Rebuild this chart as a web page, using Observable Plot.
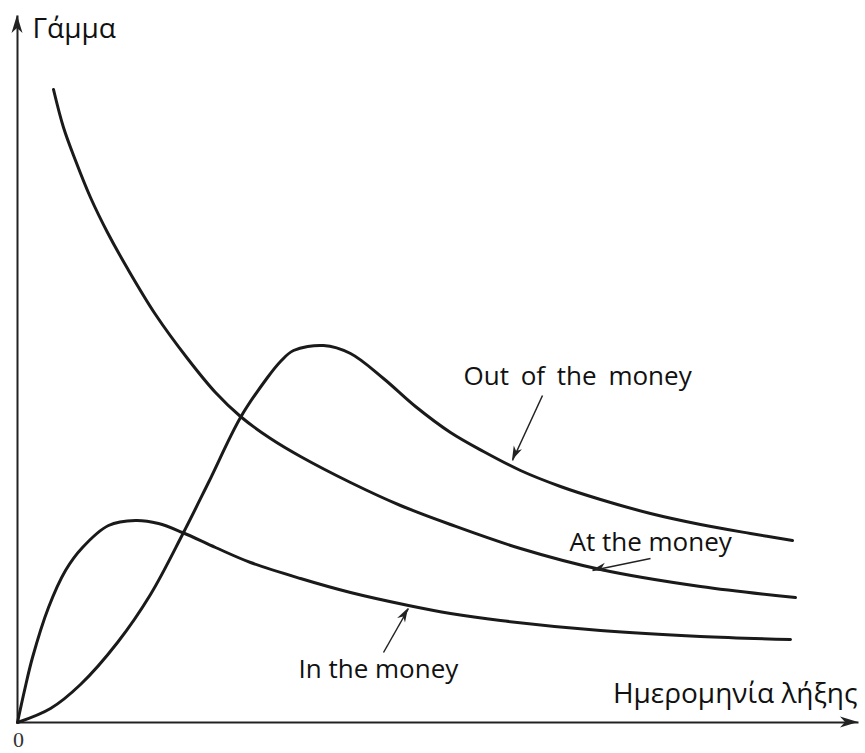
<!DOCTYPE html>
<html><head><meta charset="utf-8">
<script src="https://cdn.jsdelivr.net/npm/d3@7"></script>
<script src="https://cdn.jsdelivr.net/npm/@observablehq/plot@0.6"></script>
<style>html,body{margin:0;padding:0;background:#fff}svg{display:block}</style>
</head><body><div id="chart"></div>
<script>
// Time to expiration (arbitrary units) and gamma values
const outX = [0, 33, 63, 100, 133, 165, 191, 223, 250, 263, 276, 306, 333, 366, 398, 433, 466, 503, 543, 583, 633, 683, 733, 775];
const outY = [0, 14, 38, 80, 128, 188, 240, 305, 345, 361, 372, 377, 369, 344, 316, 290, 271, 252, 236, 223, 209, 198, 189, 182];
const atX = [36, 46, 58, 73, 90, 110, 138, 170, 198, 223, 253, 283, 333, 383, 433, 503, 583, 683, 778];
const atY = [633, 595, 562, 525, 490, 454, 408, 364, 330, 306, 284, 266, 240, 217, 198, 174, 153, 136, 125];
const inX = [0, 7, 15, 31, 48, 65, 91, 118, 141, 165, 198, 233, 283, 333, 391, 433, 483, 583, 683, 773];
const inY = [0, 32, 65, 115, 152, 175, 197, 202, 199, 190, 175, 160, 144, 130, 117, 109, 102, 92, 86, 83];

const labels = ["Out of the money", "At the money", "In the money"];
const labelX = [446, 552, 281];
const labelY = [346, 179.5, 52.5];
const arrowX1 = [525, 633, 366];
const arrowY1 = [327, 164, 70];
const arrowX2 = [495, 575, 391];
const arrowY2 = [262, 152, 114];

const axisLabelY = "Γάμμα";
const axisLabelX = "Ημερομηνία λήξης";
const originLabel = "0";
const xMax = 841, yMax = 707;

const series = [
  ...outX.map((x, i) => ({s: "out", x, y: outY[i]})),
  ...atX.map((x, i) => ({s: "at", x, y: atY[i]})),
  ...inX.map((x, i) => ({s: "in", x, y: inY[i]}))
];
const annotations = labels.map((t, i) => ({t, x: labelX[i], y: labelY[i], x1: arrowX1[i], y1: arrowY1[i], x2: arrowX2[i], y2: arrowY2[i]}));
const axes = [{x1: 0, y1: 0, x2: 0, y2: yMax}, {x1: 0, y1: 0, x2: xMax, y2: 0}];

function heads(rows, len, half, notch, color) {
  return (index, scales) => {
    const g = d3.create("svg:g").attr("fill", color);
    for (const r of rows) {
      const px1 = scales.x(r.x1), py1 = scales.y(r.y1), px2 = scales.x(r.x2), py2 = scales.y(r.y2);
      const a = Math.atan2(py2 - py1, px2 - px1);
      const c = Math.cos(a), s = Math.sin(a);
      const bx = px2 - c * len, by = py2 - s * len;
      const nx = px2 - c * len * notch, ny = py2 - s * len * notch;
      g.append("path").attr("d",
        `M${px2},${py2}L${bx - s * half},${by + c * half}L${nx},${ny}L${bx + s * half},${by - c * half}Z`);
    }
    return g.node();
  };
}

const chart = Plot.plot({
  width: 865,
  height: 753,
  marginLeft: 17,
  marginRight: 7,
  marginTop: 15,
  marginBottom: 31,
  x: {domain: [0, xMax], axis: null},
  y: {domain: [0, yMax], axis: null},
  style: {fontFamily: "'Open Sans', sans-serif", background: "#fff"},
  marks: [
    Plot.link(axes, {x1: "x1", y1: "y1", x2: "x2", y2: "y2", stroke: "#222", strokeWidth: 2}),
    heads(axes, 18, 5.5, 0.72, "#222"),
    Plot.line(series, {x: "x", y: "y", z: "s", curve: "catmull-rom", stroke: "#1a1a1a", strokeWidth: 3}),
    Plot.link(annotations, {x1: "x1", y1: "y1", x2: "x2", y2: "y2", stroke: "#222", strokeWidth: 1.5}),
    heads(annotations, 14, 4.5, 0.7, "#222"),
    Plot.text(annotations, {x: "x", y: "y", text: "t", textAnchor: "start", fontSize: 26, fill: "#111"}),
    Plot.text([axisLabelY], {x: 15, y: 693.5, text: d => d, textAnchor: "start", fontSize: 28, fill: "#111"}),
    Plot.text([axisLabelX], {x: 840, y: 28.5, text: d => d, textAnchor: "end", fontSize: 28, fill: "#111"}),
    Plot.text([originLabel], {x: 1, y: -17, text: d => d, fontSize: 22, fontFamily: "'Liberation Serif', serif", fill: "#333"})
  ]
});
d3.select(chart).selectAll("text").filter(function() { return this.textContent === labels[0]; }).attr("word-spacing", 5);
document.getElementById("chart").append(chart);
</script>
</body></html>
